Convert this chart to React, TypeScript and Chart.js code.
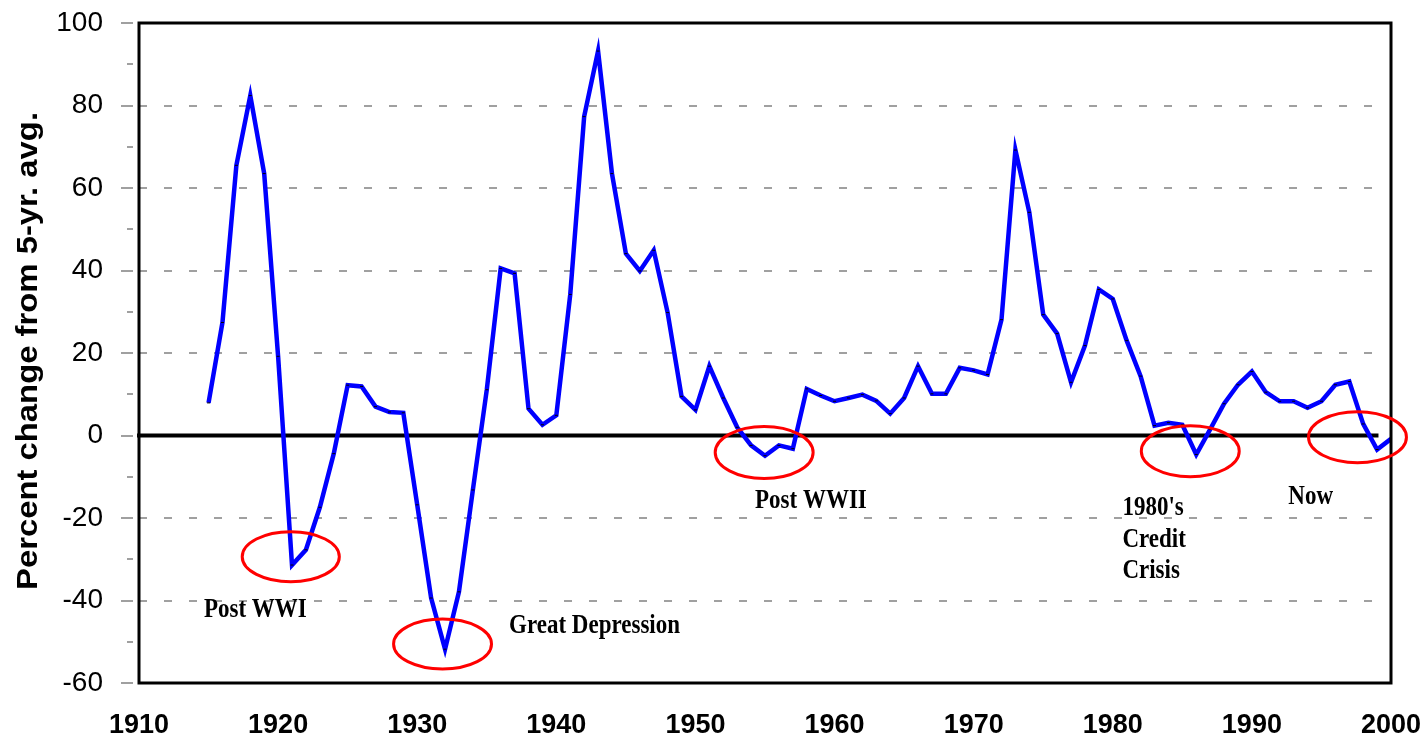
import React, { useEffect, useRef } from 'react';
import { Chart, registerables } from 'chart.js';

Chart.register(...registerables);

// ---------- data ----------
const years = [
  1915, 1916, 1917, 1918, 1919, 1920, 1921, 1922, 1923, 1924,
  1925, 1926, 1927, 1928, 1929, 1930, 1931, 1932, 1933, 1934,
  1935, 1936, 1937, 1938, 1939, 1940, 1941, 1942, 1943, 1944,
  1945, 1946, 1947, 1948, 1949, 1950, 1951, 1952, 1953, 1954,
  1955, 1956, 1957, 1958, 1959, 1960, 1961, 1962, 1963, 1964,
  1965, 1966, 1967, 1968, 1969, 1970, 1971, 1972, 1973, 1974,
  1975, 1976, 1977, 1978, 1979, 1980, 1981, 1982, 1983, 1984,
  1985, 1986, 1987, 1988, 1989, 1990, 1991, 1992, 1993, 1994,
  1995, 1996, 1997, 1998, 1999, 2000,
];

const pctChange = [
  7.9, 27.4, 65.5, 82.4, 63.5, 19.2, -31.4, -27.7, -17.4, -4.4,
  12.2, 11.9, 7.0, 5.7, 5.5, -16.8, -39.4, -51.8, -37.9, -13.2,
  11.1, 40.5, 39.3, 6.5, 2.6, 4.9, 34.2, 77.3, 93.2, 63.5,
  44.1, 39.9, 44.9, 29.8, 9.5, 6.2, 16.8, 9.1, 2.0, -2.4,
  -4.9, -2.4, -3.2, 11.3, 9.7, 8.3, 9.1, 9.9, 8.4, 5.3,
  9.1, 16.8, 10.1, 10.1, 16.4, 15.8, 14.8, 28.1, 69.2, 54.1,
  29.3, 24.7, 12.9, 21.8, 35.4, 33.1, 23.0, 14.4, 2.4, 3.1,
  2.6, -4.6, 1.5, 7.7, 12.3, 15.5, 10.5, 8.3, 8.3, 6.7,
  8.3, 12.3, 13.1, 2.8, -3.4, -0.8,
];

const xTickLabels = [1910, 1920, 1930, 1940, 1950, 1960, 1970, 1980, 1990, 2000];
const yTickLabels = [-60, -40, -20, 0, 20, 40, 60, 80, 100];
const yMinorTicks = [-50, -30, -10, 10, 30, 50, 70, 90];
const gridValues = [-40, -20, 20, 40, 60, 80];
const gridEndYear = 1999.1;

const yTitle = 'Percent change from 5-yr. avg.';

// annotation labels: left x (year), baseline y (value)
const noteTexts = ['Post WWI', 'Great Depression', 'Post WWII', "1980's", 'Credit', 'Crisis', 'Now'];
const noteYears = [1914.67, 1936.6, 1954.28, 1980.69, 1980.69, 1980.69, 1992.62];
const noteValues = [-44.0, -47.95, -17.65, -19.27, -26.96, -34.6, -16.6];

// highlight ellipses: center (year, value), radii (years, value units)
const ellipseYears = [1920.91, 1931.82, 1954.94, 1985.57, 1997.59];
const ellipseValues = [-29.38, -50.55, -4.12, -3.81, -0.41];
const ellipseRxYears = [3.49, 3.52, 3.52, 3.52, 3.52];
const ellipseRyValues = [6.06, 6.06, 6.3, 6.18, 6.18];

const decorPlugin = {
  id: 'decor',
  beforeDatasetsDraw(chart: any) {
    const { ctx, chartArea, scales } = chart;
    const x = scales.x;
    const y = scales.y;
    const xEnd = x.getPixelForValue(gridEndYear);
    ctx.save();
    // dashed grid lines
    ctx.strokeStyle = '#a0a0a0';
    ctx.lineWidth = 2;
    ctx.setLineDash([8, 17]);
    gridValues.forEach((v) => {
      const py = Math.round(y.getPixelForValue(v));
      ctx.beginPath();
      ctx.moveTo(chartArea.left, py);
      ctx.lineTo(xEnd, py);
      ctx.stroke();
    });
    ctx.setLineDash([]);
    // tick marks left of axis
    yTickLabels.forEach((v) => {
      const py = Math.round(y.getPixelForValue(v));
      ctx.beginPath();
      ctx.moveTo(chartArea.left - 18, py);
      ctx.lineTo(chartArea.left - 6, py);
      ctx.stroke();
    });
    yMinorTicks.forEach((v) => {
      const py = Math.round(y.getPixelForValue(v));
      ctx.beginPath();
      ctx.moveTo(chartArea.left - 12, py);
      ctx.lineTo(chartArea.left - 6, py);
      ctx.stroke();
    });
    // zero line
    const y0 = y.getPixelForValue(0);
    ctx.strokeStyle = '#000';
    ctx.lineWidth = 4;
    ctx.beginPath();
    ctx.moveTo(chartArea.left - 2, y0);
    ctx.lineTo(xEnd, y0);
    ctx.stroke();
    ctx.restore();
  },
  afterDatasetsDraw(chart: any) {
    const { ctx, chartArea, scales } = chart;
    const x = scales.x;
    const y = scales.y;
    ctx.save();
    // frame
    ctx.strokeStyle = '#000';
    ctx.lineWidth = 3;
    ctx.strokeRect(chartArea.left, chartArea.top, chartArea.right - chartArea.left, chartArea.bottom - chartArea.top);

    // ellipses
    ctx.strokeStyle = '#ff0000';
    ctx.lineWidth = 3;
    ellipseYears.forEach((yr, i) => {
      const cx = x.getPixelForValue(yr);
      const cy = y.getPixelForValue(ellipseValues[i]);
      const rx = Math.abs(x.getPixelForValue(yr + ellipseRxYears[i]) - cx);
      const ry = Math.abs(y.getPixelForValue(ellipseValues[i] + ellipseRyValues[i]) - cy);
      ctx.beginPath();
      ctx.ellipse(cx, cy, rx, ry, 0, 0, Math.PI * 2);
      ctx.stroke();
    });

    // annotation labels (slightly tall serif, as in the original)
    ctx.fillStyle = '#000';
    ctx.font = "bold 23px 'Liberation Serif', 'Times New Roman', serif";
    ctx.textAlign = 'left';
    ctx.textBaseline = 'alphabetic';
    noteTexts.forEach((t, i) => {
      ctx.save();
      ctx.translate(x.getPixelForValue(noteYears[i]), y.getPixelForValue(noteValues[i]));
      ctx.scale(1, 1.15);
      ctx.fillText(t, 0, 0);
      ctx.restore();
    });

    // y-axis title
    const cyTitle = (chartArea.top + chartArea.bottom) / 2 - 2;
    ctx.translate(37, cyTitle);
    ctx.rotate(-Math.PI / 2);
    ctx.font = "bold 30px 'Liberation Sans', Arial, sans-serif";
    const w = ctx.measureText(yTitle).width;
    ctx.scale(478 / w, 1);
    ctx.textAlign = 'center';
    ctx.fillText(yTitle, 0, 0);
    ctx.restore();
  },
};

export default function App() {
  const canvasRef = useRef<HTMLCanvasElement | null>(null);

  useEffect(() => {
    if (!canvasRef.current) return;
    const chart = new Chart(canvasRef.current, {
      type: 'line',
      data: {
        datasets: [
          {
            data: years.map((yr, i) => ({ x: yr, y: pctChange[i] })),
            borderColor: '#0000ff',
            borderWidth: 4.5,
            tension: 0,
            pointStyle: 'line',
            pointRadius: 1.5,
            pointBorderColor: '#000',
            pointBorderWidth: 1,
            pointHoverRadius: 1.5,
            fill: false,
          },
        ],
      },
      options: {
        responsive: false,
        animation: false,
        devicePixelRatio: 1,
        layout: { padding: { top: 23, right: 35, left: 0, bottom: 0 } },
        plugins: {
          legend: { display: false },
          tooltip: { enabled: false },
        },
        scales: {
          x: {
            type: 'linear',
            min: 1910,
            max: 2000,
            afterFit: (scale: any) => {
              scale.height = 56;
              scale.paddingLeft = 0;
              scale.paddingRight = 0;
            },
            afterBuildTicks: (scale: any) => {
              scale.ticks = xTickLabels.map((v) => ({ value: v }));
            },
            grid: { display: false, drawTicks: false },
            border: { display: false },
            ticks: {
              padding: 26,
              maxRotation: 0,
              autoSkip: false,
              color: '#000',
              font: { family: "'Liberation Sans', Arial, sans-serif", size: 27, weight: 'bold' },
              callback: (v: any) => String(v),
            },
          },
          y: {
            type: 'linear',
            min: -60,
            max: 100,
            afterFit: (scale: any) => {
              scale.width = 139;
              scale.paddingTop = 0;
              scale.paddingBottom = 0;
            },
            afterBuildTicks: (scale: any) => {
              scale.ticks = yTickLabels.map((v) => ({ value: v }));
            },
            grid: { display: false, drawTicks: false },
            border: { display: false },
            ticks: {
              padding: 36,
              color: '#000',
              font: { family: "'Liberation Sans', Arial, sans-serif", size: 28 },
              callback: (v: any) => String(v),
            },
          },
        },
      },
      plugins: [decorPlugin],
    });
    return () => chart.destroy();
  }, []);

  return (
    <div style={{ position: 'absolute', left: 0, top: 0, width: 1426, height: 739, background: '#fff' }}>
      <canvas ref={canvasRef} width={1426} height={739} style={{ display: 'block' }} />
    </div>
  );
}
